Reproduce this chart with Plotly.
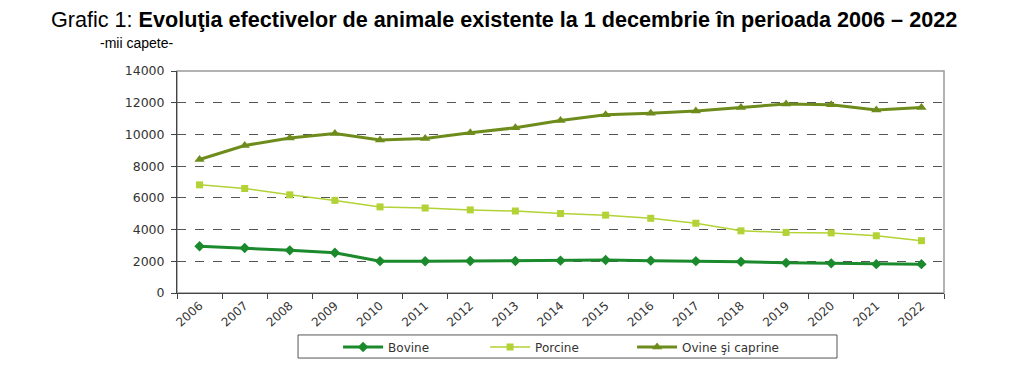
import plotly.graph_objects as go

years = [str(y) for y in range(2006, 2023)]
bovine = [2950, 2840, 2690, 2540, 2010, 2000, 2020, 2020, 2040, 2080, 2040, 2010, 1970, 1900, 1870, 1820, 1820]
porcine = [6820, 6590, 6190, 5840, 5430, 5360, 5240, 5170, 5010, 4910, 4710, 4400, 3920, 3820, 3790, 3610, 3300]
ovine = [8420, 9300, 9780, 10060, 9650, 9740, 10100, 10420, 10880, 11240, 11330, 11470, 11700, 11920, 11870, 11540, 11700]
yticks = [0, 2000, 4000, 6000, 8000, 10000, 12000, 14000]

fig = go.Figure()
fig.add_trace(go.Scatter(x=years, y=bovine, name="Bovine", mode="lines+markers",
                         line=dict(color="#1b8a2c", width=3),
                         marker=dict(symbol="diamond", size=8, color="#1b8a2c")))
fig.add_trace(go.Scatter(x=years, y=porcine, name="Porcine", mode="lines+markers",
                         line=dict(color="#b2d235", width=1.5),
                         marker=dict(symbol="square", size=7, color="#b2d235")))
fig.add_trace(go.Scatter(x=years, y=ovine, name="Ovine şi caprine", mode="lines+markers",
                         line=dict(color="#6e8c1c", width=3),
                         marker=dict(symbol="triangle-up", size=9, color="#6e8c1c")))

fig.update_layout(
    width=1017, height=359,
    margin=dict(l=169, r=81, t=63, b=74, autoexpand=False),
    paper_bgcolor="white", plot_bgcolor="white",
    font=dict(family="Liberation Sans, Arial, sans-serif", color="#222"),
    showlegend=True,
    legend=dict(orientation="h", x=0.21, xanchor="left", y=-0.243, yanchor="middle",
                borderwidth=0, bgcolor="rgba(0,0,0,0)",
                font=dict(size=12, family="DejaVu Sans, sans-serif", color="#333"),
                entrywidth=92, itemwidth=40),
    annotations=[
        dict(text="Grafic 1: <b>Evoluţia efectivelor de animale existente la 1 decembrie în perioada 2006 – 2022</b>",
             xref="paper", yref="paper", x=-0.167, y=1.234, xanchor="left", yanchor="middle",
             showarrow=False, font=dict(size=21.6, family="Liberation Sans, Arial, sans-serif", color="black")),
        dict(text="-mii capete-", xref="paper", yref="paper", x=-0.103, y=1.126,
             xanchor="left", yanchor="middle", showarrow=False,
             font=dict(size=14, family="Liberation Sans, Arial, sans-serif", color="black")),
    ],
)
fig.update_xaxes(type="category", range=[-0.5, 16.5], tickangle=-42, automargin=False,
                 tickson="boundaries", ticks="outside", ticklen=5, tickcolor="#444",
                 showline=True, linecolor="#444", linewidth=1, mirror=False,
                 showgrid=False, tickfont=dict(size=12, family="DejaVu Sans, sans-serif", color="#333"))
fig.update_yaxes(range=[0, 14000], tickvals=yticks, ticktext=[str(v) for v in yticks], automargin=False,
                 ticks="outside", ticklen=5, tickcolor="#444", ticklabelstandoff=4,
                 showline=True, linecolor="#444", linewidth=1,
                 showgrid=True, gridcolor="#555", griddash="dash", gridwidth=1,
                 zeroline=False,
                 tickfont=dict(size=12.5, family="DejaVu Sans, sans-serif", color="#333"))
# plot frame top/right
fig.add_shape(type="rect", xref="paper", yref="paper", x0=0, y0=0, x1=1, y1=1,
              line=dict(color="#999", width=1.5), layer="below")
# legend frame
fig.add_shape(type="rect", xref="paper", yref="paper", x0=0.1578, y0=-0.293, x1=0.8605, y1=-0.189,
              line=dict(color="#555", width=1), fillcolor="white", layer="below")

fig.write_html("out.html")
